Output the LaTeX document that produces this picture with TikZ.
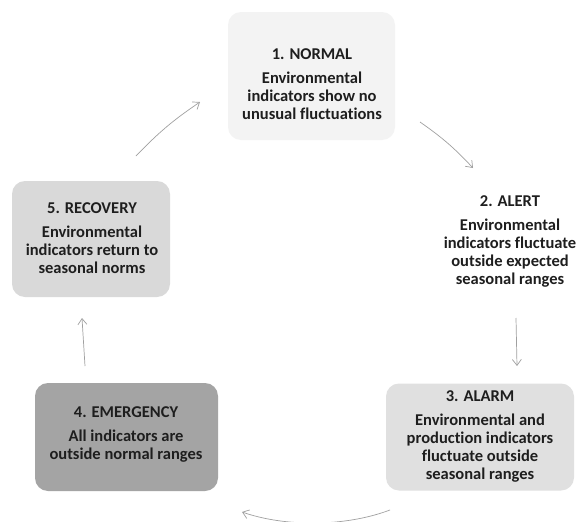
\documentclass[tikz,border=0pt]{standalone}
\usepackage{fontspec}
\setmainfont[Ligatures=NoCommon]{Carlito}
\usetikzlibrary{arrows.meta}
\definecolor{txt}{HTML}{1E1E1E}
\definecolor{arr}{HTML}{A0A0A0}
\definecolor{fone}{HTML}{F3F3F3}
\definecolor{fthree}{HTML}{E0E0E0}
\definecolor{ffour}{HTML}{A4A4A4}
\definecolor{ffive}{HTML}{D9D9D9}
\tikzset{
  box/.style={rounded corners=13pt, inner sep=0pt, draw=none},
  lbl/.style={align=center, font=\bfseries\fontsize{16.5}{18}\selectfont, text=txt, inner sep=0pt},
  conn/.style={draw=arr, line width=0.7pt, -{Straight Barb[length=6pt,width=9pt,line width=0.7pt]}}
}
\newcommand{\ttl}[1]{#1\\[6pt]}
\begin{document}
\begin{tikzpicture}[x=1pt,y=-1pt]
\useasboundingbox (0,0) rectangle (576,522);
\fill[white] (0,0) rectangle (576,522);
% boxes
\node[box, fill=fone, minimum width=167pt, minimum height=128pt] (b1) at (311.5,76) {};
\node[box, fill=fthree, minimum width=188pt, minimum height=107pt] (b3) at (480,437) {};
\node[box, fill=ffour, minimum width=183pt, minimum height=108pt] (b4) at (126.5,437) {};
\node[box, fill=ffive, minimum width=158pt, minimum height=116pt] (b5) at (91,239) {};
% texts
\node[lbl] (t1) at (312,84) {\ttl{1. NORMAL}Environmental\\indicators show no\\unusual fluctuations};
\node[lbl] (t2) at (510,241) {\ttl{2. ALERT}Environmental\\indicators fluctuate\\outside expected\\seasonal ranges};
\node[lbl] (t3) at (480,436) {\ttl{3. ALARM}Environmental and\\production indicators\\fluctuate outside\\seasonal ranges};
\node[lbl] (t4) at (126,434) {\ttl{4. EMERGENCY}All indicators are\\outside normal ranges};
\node[lbl] (t5) at (92,238) {\ttl{5. RECOVERY}Environmental\\indicators return to\\seasonal norms};
% connector ends
\coordinate (a51) at (136,156);
\coordinate (a51e) at (200,102);
\coordinate (a12) at (420,122);
\coordinate (a12e) at (473,168);
\coordinate (a23) at (516,318);
\coordinate (a23e) at (517,366);
\coordinate (a34) at (390,510);
\coordinate (a34e) at (242,512);
\coordinate (a45) at (85,366);
\coordinate (a45e) at (82,318);
\draw[conn] (a51) to[bend left=6] (a51e);
\draw[conn] (a12) to[bend left=6] (a12e);
\draw[conn] (a23) -- (a23e);
\draw[conn] (a34) .. controls (345,527) and (285,527) .. (a34e);
\draw[conn] (a45) -- (a45e);
\end{tikzpicture}
\end{document}
